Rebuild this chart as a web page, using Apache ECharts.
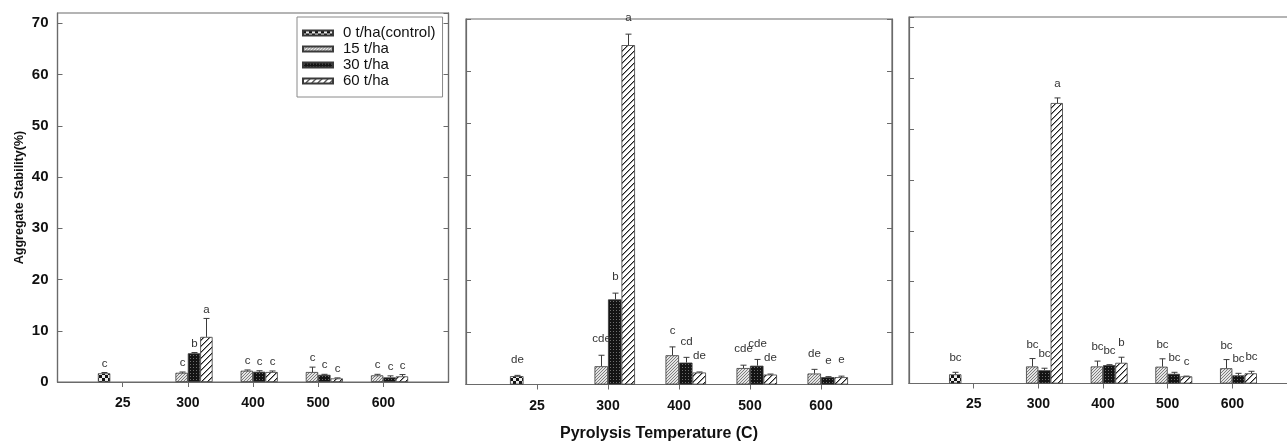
<!DOCTYPE html>
<html>
<head>
<meta charset="utf-8">
<script src="https://cdn.jsdelivr.net/npm/echarts@6/dist/echarts.min.js"></script>
<style>
  html, body { margin: 0; padding: 0; background: #fff; }
  #chart { width: 1287px; height: 443px; }
</style>
</head>
<body>
<div id="chart"></div>
<script>
// Pyrolysis temperatures (25 = no biochar) and application rates
const categories = ['25', '300', '400', '500', '600'];
const rates = ['0 t/ha(control)', '15 t/ha', '30 t/ha', '60 t/ha'];

// Panel A: means, standard errors and significance letters (rows = rates)
const meansA = [
  [1.7, null, null, null, null],
  [null, 1.8, 2.2, 1.95, 1.3],
  [null, 5.6, 2.0, 1.4, 0.9],
  [null, 8.8, 1.95, 0.7, 1.1]
];
const errorsA = [
  [0.15, null, null, null, null],
  [null, 0.15, 0.15, 0.95, 0.2],
  [null, 0.15, 0.2, 0.1, 0.3],
  [null, 3.6, 0.2, 0.1, 0.35]
];
const lettersA = [
  ['c', null, null, null, null],
  [null, 'c', 'c', 'c', 'c'],
  [null, 'b', 'c', 'c', 'c'],
  [null, 'a', 'c', 'c', 'c']
];

// Panel B
const meansB = [
  [1.6, null, null, null, null],
  [null, 3.5, 5.6, 3.15, 2.1],
  [null, 16.3, 4.2, 3.6, 1.4],
  [null, 65.0, 2.3, 1.9, 1.4]
];
const errorsB = [
  [0.15, null, null, null, null],
  [null, 2.1, 1.6, 0.55, 0.8],
  [null, 1.2, 1.0, 1.2, 0.1],
  [null, 2.1, 0.1, 0.1, 0.2]
];
const lettersB = [
  ['de', null, null, null, null],
  [null, 'cde', 'c', 'cde', 'de'],
  [null, 'b', 'cd', 'cde', 'e'],
  [null, 'a', 'de', 'de', 'e']
];

// Panel C
const meansC = [
  [1.8, null, null, null, null],
  [null, 3.35, 3.35, 3.3, 3.0],
  [null, 2.6, 3.6, 1.9, 1.6],
  [null, 55.1, 4.06, 1.4, 2.0]
];
const errorsC = [
  [0.4, null, null, null, null],
  [null, 1.55, 1.05, 1.55, 1.7],
  [null, 0.4, 0.1, 0.3, 0.4],
  [null, 1.0, 1.1, 0.05, 0.4]
];
const lettersC = [
  ['bc', null, null, null, null],
  [null, 'bc', 'bc', 'bc', 'bc'],
  [null, 'bc', 'bc', 'bc', 'bc'],
  [null, 'a', 'b', 'c', 'bc']
];

const yTicks = [0, 10, 20, 30, 40, 50, 60, 70];

const FONT = '"Liberation Sans", Arial, Helvetica, sans-serif';
const BAR_FRAC = 0.19;

// ---- fill patterns for the four application rates ----
function pixelPattern(size, painter) {
  const c = document.createElement('canvas');
  c.width = size; c.height = size;
  const ctx = c.getContext('2d');
  const img = ctx.createImageData(size, size);
  for (let y = 0; y < size; y++) {
    for (let x = 0; x < size; x++) {
      const v = painter(x, y);
      const p = (y * size + x) * 4;
      img.data[p] = v; img.data[p + 1] = v; img.data[p + 2] = v; img.data[p + 3] = 255;
    }
  }
  ctx.putImageData(img, 0, 0);
  return { image: c, repeat: 'repeat' };
}

const patterns = [
  // checkered
  pixelPattern(6, (x, y) => {
    const a = (x % 6) < 3, b = (y % 6) < 3;
    return (a === b) ? 20 : 235;
  }),
  // light grey, fine hatch
  pixelPattern(3, (x, y) => ((x + y) % 3 === 0 ? 125 : 228)),
  // near black, fine dots
  pixelPattern(3, (x, y) => ((x === 1 && y === 1) ? 110 : 20)),
  // white, wide hatch
  pixelPattern(6, (x, y) => {
    const r = (x + y) % 6;
    return r === 0 ? 30 : (r === 1 ? 150 : 255);
  })
];

// ---- panel layout ----
const panels = [
  { means: meansA, errors: errorsA, letters: lettersA, left: 57.5, top: 13, width: 391, height: 369, max: 72, labels: true, right: true, gap: 3, margin: 14 },
  { means: meansB, errors: errorsB, letters: lettersB, left: 466, top: 19, width: 426, height: 365.5, max: 70, labels: false, right: true, gap: 10, margin: 15 },
  { means: meansC, errors: errorsC, letters: lettersC, left: 909, top: 17, width: 388, height: 366.5, max: 72, labels: false, right: false, gap: 8, margin: 14 }
];

const axisColor = '#6a6a6a';
const xData = [''].concat(categories, ['']);

const grid = [], xAxis = [], yAxis = [], series = [];

panels.forEach((p, gi) => {
  grid.push({
    left: p.left, top: p.top, width: p.width, height: p.height,
    outerBoundsMode: 'none', containLabel: false,
    show: true, borderColor: axisColor, borderWidth: 1.2, backgroundColor: 'transparent'
  });
  xAxis.push({
    type: 'category', gridIndex: gi, data: xData, boundaryGap: false,
    axisLine: { lineStyle: { color: axisColor, width: 1.2 } },
    axisTick: { show: true, length: 5, inside: false, interval: (i) => i >= 1 && i <= categories.length, lineStyle: { color: axisColor } },
    axisLabel: { interval: 0, margin: p.margin, fontSize: 14, fontWeight: 'bold', color: '#111', fontFamily: FONT },
    splitLine: { show: false }
  });
  const leftIndex = yAxis.length;
  yAxis.push({
    type: 'value', gridIndex: gi, min: 0, max: p.max, interval: 10, position: 'left',
    axisLine: { show: true, lineStyle: { color: axisColor, width: 1.2 } },
    axisTick: { show: true, inside: true, length: 5, lineStyle: { color: axisColor } },
    axisLabel: {
      show: p.labels, showMaxLabel: false, margin: 9, fontSize: 15, fontWeight: 'bold', color: '#111', fontFamily: FONT,
      formatter: (v) => (yTicks.indexOf(v) >= 0 ? String(v) : '')
    },
    splitLine: { show: false }
  });
  if (p.right) {
    yAxis.push({
      type: 'value', gridIndex: gi, min: 0, max: p.max, interval: 10, position: 'right',
      axisLine: { show: true, lineStyle: { color: axisColor, width: 1.2 } },
      axisTick: { show: true, inside: true, length: 5, lineStyle: { color: axisColor } },
      axisLabel: { show: false },
      splitLine: { show: false }
    });
  }

  // bars, one series per application rate
  rates.forEach((name, k) => {
    const data = [];
    p.means[k].forEach((v, i) => { if (v != null) data.push([i + 1, v]); });
    series.push({
      type: 'bar', name: name, xAxisIndex: gi, yAxisIndex: leftIndex,
      data: data, barWidth: (BAR_FRAC * 100) + '%', barGap: '0%',
      itemStyle: { color: patterns[k], borderColor: '#3a3a3a', borderWidth: 0.8 },
      silent: true, animation: false
    });
  });

  // error bars and significance letters
  const items = [], letters = [];
  rates.forEach((name, k) => {
    p.means[k].forEach((v, i) => {
      if (v == null) return;
      items.push([i + 1, v, p.errors[k][i] || 0, k]);
      letters.push(p.letters[k][i] || '');
    });
  });
  series.push({
    type: 'custom', xAxisIndex: gi, yAxisIndex: leftIndex, data: items, z: 5, silent: true, animation: false,
    renderItem: (params, api) => {
      const cat = api.value(0), m = api.value(1), e = api.value(2), k = api.value(3);
      const band = api.size([1, 0])[0];
      const off = (k - 1.5) * band * BAR_FRAC;
      const base = api.coord([cat, m]);
      const top = api.coord([cat, m + e]);
      const x = Math.round(base[0] + off) + 0.5;
      const children = [];
      if (e > 0) {
        children.push({ type: 'line', shape: { x1: x, y1: base[1], x2: x, y2: top[1] }, style: { stroke: '#3a3a3a', lineWidth: 1 } });
        children.push({ type: 'line', shape: { x1: x - 3, y1: top[1], x2: x + 3, y2: top[1] }, style: { stroke: '#3a3a3a', lineWidth: 1 } });
      }
      children.push({
        type: 'text', x: x, y: top[1] - p.gap,
        style: { text: letters[params.dataIndex], fill: '#333', fontSize: 11.5, fontFamily: FONT, align: 'center', verticalAlign: 'bottom' }
      });
      return { type: 'group', children: children };
    }
  });
});

const chart = echarts.init(document.getElementById('chart'), null, { renderer: 'canvas' });
chart.setOption({
  backgroundColor: '#fff',
  animation: false,
  textStyle: { fontFamily: FONT },
  grid: grid,
  xAxis: xAxis,
  yAxis: yAxis,
  legend: {
    data: rates, orient: 'vertical', left: 297, top: 17,
    itemWidth: 30, itemHeight: 5, itemGap: 0, icon: 'rect',
    padding: [8, 7, 8, 5], borderColor: '#8a8a8a', borderWidth: 1,
    selectedMode: false,
    textStyle: { fontSize: 15, lineHeight: 16, color: '#111', fontFamily: FONT, padding: [0, 0, 0, 5] }
  },
  graphic: [
    {
      type: 'text', x: 659, y: 434,
      style: { text: 'Pyrolysis Temperature (C)', fill: '#111', font: 'bold 16px ' + FONT, align: 'center', verticalAlign: 'middle' }
    },
    {
      type: 'text', x: 20, y: 197.5, rotation: Math.PI / 2,
      style: { text: 'Aggregate Stability(%)', fill: '#111', font: 'bold 12.5px ' + FONT, align: 'center', verticalAlign: 'middle' }
    }
  ],
  series: series
});
</script>
</body>
</html>
